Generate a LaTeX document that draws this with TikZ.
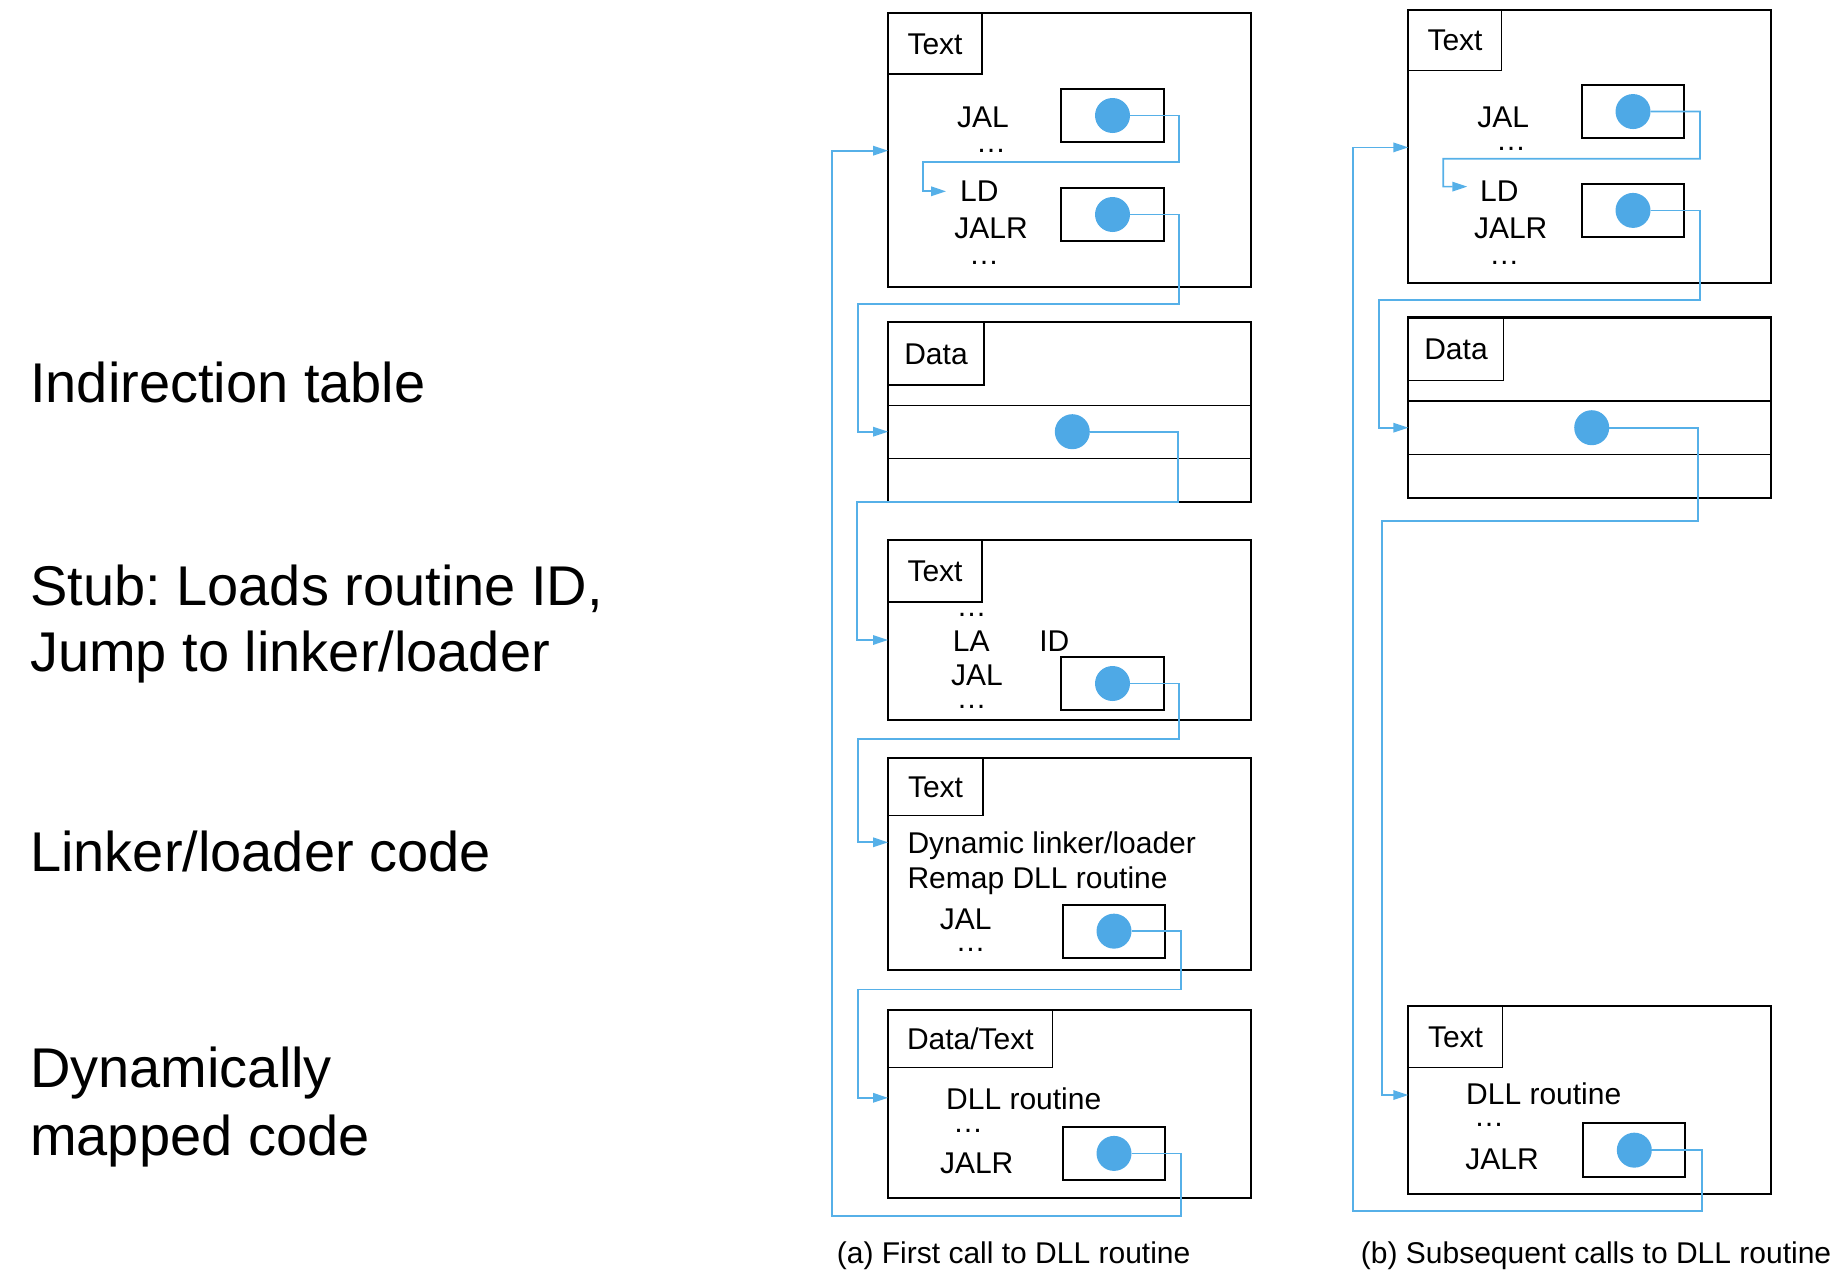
\documentclass[tikz,border=0pt]{standalone}
\usepackage{fontspec}
\setmainfont{Liberation Sans}
\usetikzlibrary{arrows.meta}
\definecolor{dotblue}{RGB}{78,169,230}
\definecolor{lineblue}{RGB}{86,176,232}
\newcommand\myboxfont{\fontsize{30}{36}\selectfont}
\newcommand\mysidefont{\fontsize{56}{67}\selectfont}
\frenchspacing
\begin{document}
\begin{tikzpicture}[x=1pt,y=-1pt,
 blk/.style={draw=black, line width=2.2pt, inner sep=0pt, outer sep=0pt, anchor=north west},
 tagbox/.style={draw=black, line width=1.5pt, inner sep=0pt, outer sep=0pt, anchor=north west, font=\myboxfont, text height=21.5pt, text depth=0pt},
 ptr/.style={draw=black, line width=2pt, inner sep=0pt, outer sep=0pt, anchor=north west, minimum width=103pt, minimum height=53pt},
 dot/.style={circle, fill=dotblue, minimum size=35pt, inner sep=0pt, outer sep=0pt},
 divider/.style={draw=black, line width=1.5pt},
 link/.style={draw=lineblue, line width=1.7pt},
 arr/.style={link, -{Triangle[length=15pt,width=9.5pt]}},
 code/.style={font=\myboxfont, inner sep=0pt, anchor=base},
 codew/.style={font=\myboxfont, inner sep=0pt, anchor=base west},
 side/.style={font=\mysidefont, inner sep=0pt, anchor=base west}]
\useasboundingbox (0,0) rectangle (1846,1282);

% ---------- left labels ----------
\node[side] (L1) at (30,402.7) {Indirection table};
\node[side] (L2a) at (30,605) {Stub: Loads routine ID,};
\node[side] (L2b) at (30,671.7) {Jump to linker/loader};
\node[side] (L3) at (30,871.7) {Linker/loader code};
\node[side] (L4a) at (30,1087.3) {Dynamically};
\node[side] (L4b) at (30,1155) {mapped code};

% ---------- panel (a) ----------
\node[blk, minimum width=363pt, minimum height=274pt] (A1) at (888,13) {};
\node[tagbox, minimum width=94pt, minimum height=61pt] (A1t) at (888,13) {Text};
\node[ptr] (A1p1) at (1061,89) {};
\node[ptr] (A1p2) at (1061,188) {};
\node[code] (A1jal) at (983,127) {JAL};
\node[code] (A1e1) at (991,152) {…};
\node[codew] (A1ld) at (960,201.7) {LD};
\node[code] (A1jalr) at (991,238.3) {JALR};
\node[code] (A1e2) at (984,264.7) {…};

\node[blk, minimum width=363pt, minimum height=180pt] (A2) at (888,322) {};
\node[tagbox, minimum width=96pt, minimum height=63pt] (A2t) at (888,322) {Data};
\draw[divider] (888,405.3) -- (1251,405.3);
\draw[divider] (888,458.7) -- (1251,458.7);

\node[blk, minimum width=363pt, minimum height=180pt] (A3) at (888,540) {};
\node[tagbox, minimum width=94pt, minimum height=62pt] (A3t) at (888,540) {Text};
\node[ptr] (A3p) at (1061,657) {};
\node[code] (A3e1) at (971.7,616.7) {…};
\node[code] (A3la) at (971.3,651) {LA};
\node[code] (A3id) at (1054.3,651) {ID};
\node[code] (A3jal) at (977,685) {JAL};
\node[code] (A3e2) at (971.7,708) {…};

\node[blk, minimum width=363pt, minimum height=212.2pt] (A4) at (888,758) {};
\node[tagbox, minimum width=95pt, minimum height=57.4pt] (A4t) at (888,758) {Text};
\node[ptr, minimum width=102pt, minimum height=53.3pt] (A4p) at (1063,904.5) {};
\node[codew] (A4l1) at (907.3,853) {Dynamic linker/loader};
\node[codew] (A4l2) at (907.3,888.6) {Remap DLL routine};
\node[code] (A4jal) at (965.7,929.4) {JAL};
\node[code] (A4e) at (970.7,951.5) {…};

\node[blk, minimum width=363pt, minimum height=188.4pt] (A5) at (888,1009.6) {};
\node[tagbox, minimum width=164.7pt, minimum height=58.1pt] (A5t) at (888,1009.6) {Data/Text};
\node[ptr, minimum width=102pt, minimum height=53.2pt] (A5p) at (1063,1126.8) {};
\node[codew] (A5dll) at (946,1109.2) {DLL routine};
\node[code] (A5e) at (968,1132.7) {…};
\node[code] (A5jalr) at (976.7,1173.1) {JALR};

\node[inner sep=0pt, anchor=base west, font=\myboxfont] (capA) at (836.7,1263.7) {(a) First call to DLL routine};

% ---------- panel (b) ----------
\node[blk, minimum width=363pt, minimum height=273.5pt] (B1) at (1408.3,9.6) {};
\node[tagbox, minimum width=93.4pt, minimum height=61pt] (B1t) at (1408.3,9.6) {Text};
\node[ptr, minimum width=102.6pt, minimum height=53.7pt] (B1p1) at (1581.7,84.7) {};
\node[ptr, minimum width=102.6pt, minimum height=53.8pt] (B1p2) at (1581.7,183.5) {};
\node[code] (B1jal) at (1503.3,127.4) {JAL};
\node[code] (B1e1) at (1511,150.5) {…};
\node[codew] (B1ld) at (1480,201.4) {LD};
\node[code] (B1jalr) at (1510.7,238.3) {JALR};
\node[code] (B1e2) at (1504.3,264.1) {…};

\node[blk, minimum width=363pt, minimum height=180.1pt] (B2) at (1408.3,317.5) {};
\node[tagbox, minimum width=95.4pt, minimum height=63pt] (B2t) at (1408.3,317.5) {Data};
\draw[divider] (1408.3,400.8) -- (1771.3,400.8);
\draw[divider] (1408.3,454.5) -- (1771.3,454.5);

\node[blk, minimum width=363pt, minimum height=188pt] (B3) at (1408.3,1005.7) {};
\node[tagbox, minimum width=94.4pt, minimum height=62pt] (B3t) at (1408.3,1005.7) {Text};
\node[ptr, minimum width=102pt, minimum height=53.7pt] (B3p) at (1583.3,1123.3) {};
\node[codew] (B3dll) at (1466,1104.3) {DLL routine};
\node[code] (B3e) at (1489,1126.7) {…};
\node[code] (B3jalr) at (1502,1169) {JALR};

\node[inner sep=0pt, anchor=base west, font=\myboxfont] (capB) at (1360.7,1263.3) {(b) Subsequent calls to DLL routine};

% ---------- arrow targets ----------
\coordinate (A1in) at (888,150.7);
\coordinate (A1ldin) at (946,191.3);
\coordinate (A2in) at (888,431.7);
\coordinate (A3in) at (888,640);
\coordinate (A4in) at (888,842.3);
\coordinate (A5in) at (888,1097.8);
\coordinate (B1in) at (1408.3,147.4);
\coordinate (B1ldin) at (1467.3,186.6);
\coordinate (B2in) at (1408.3,427.7);
\coordinate (B3in) at (1408.3,1095);

% ---------- dots ----------
\node[dot] (A1d1) at (A1p1.center) {};
\node[dot] (A1d2) at (A1p2.center) {};
\node[dot] (A2d) at (1072.3,431.7) {};
\node[dot] (A3d) at (A3p.center) {};
\node[dot] (A4d) at (A4p.center) {};
\node[dot] (A5d) at (A5p.center) {};
\node[dot] (B1d1) at (B1p1.center) {};
\node[dot] (B1d2) at (B1p2.center) {};
\node[dot] (B2d) at (1591.7,427.7) {};
\node[dot] (B3d) at (B3p.center) {};

% ---------- connectors (a) ----------
\draw[arr] (A1d1.east) -- (1179,115.5) -- (1179,162.3) -- (922.7,162.3) |- (A1ldin);
\draw[arr] (A1d2.east) -- (1179,214.5) -- (1179,304) -- (858,304) |- (A2in);
\draw[arr] (A2d.east) -- (1178.3,431.7) -- (1178.3,502) -- (857,502) |- (A3in);
\draw[arr] (A3d.east) -- (1179,683.5) -- (1179,738.7) -- (858,738.7) |- (A4in);
\draw[arr] (A4d.east) -- (1181,931.15) -- (1181,989.6) -- (858,989.6) |- (A5in);
\draw[arr] (A5d.east) -- (1181,1153.4) -- (1181,1216) -- (832.3,1216) |- (A1in);

% ---------- connectors (b) ----------
\draw[arr] (B1d1.east) -- (1700,111.55) -- (1700,158.7) -- (1443.3,158.7) |- (B1ldin);
\draw[arr] (B1d2.east) -- (1700,210.4) -- (1700,300.3) -- (1379,300.3) |- (B2in);
\draw[arr] (B2d.east) -- (1698.3,427.7) -- (1698.3,520.7) -- (1381.7,520.7) |- (B3in);
\draw[arr] (B3d.east) -- (1702,1150.15) -- (1702,1211.3) -- (1353,1211.3) |- (B1in);
\end{tikzpicture}
\end{document}
